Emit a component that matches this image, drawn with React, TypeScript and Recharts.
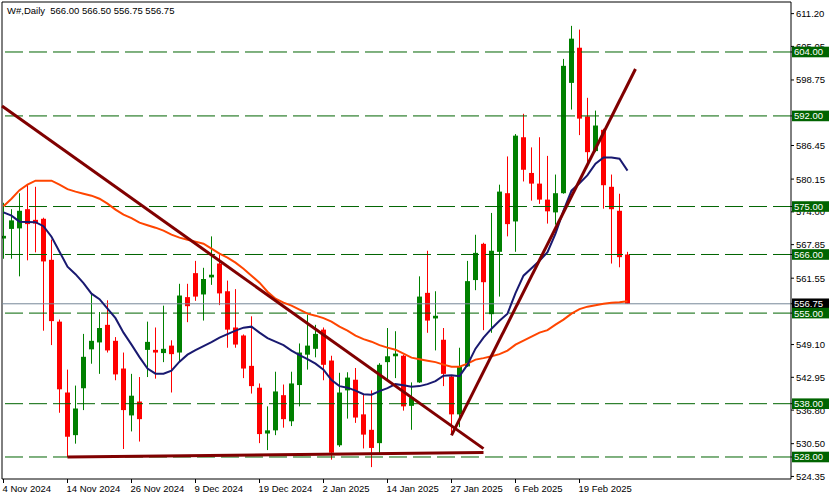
import { ComposedChart, Bar, Line, XAxis, YAxis, ReferenceLine } from "recharts";

const FONT = "'Liberation Sans', Arial, sans-serif";

// daily bars, 4 Nov 2024 .. 27 Feb 2025
const opens = [
  569.0, 570.8, 570.9, 574.5, 572.5, 572.7, 565.0, 553.4, 540.1, 532.1,
  540.9, 548.2, 549.5, 552.8, 549.8, 544.6, 535.8, 538.4, 548.1, 548.1,
  547.5, 548.9, 547.6, 558.0, 562.5, 558.5, 561.7, 564.3, 559.1, 552.3,
  550.8, 545.1, 541.0, 532.4, 533.0, 539.6, 534.7, 541.5, 547.2, 548.3,
  551.9, 546.1, 530.2, 540.5, 542.5, 536.0, 533.1, 530.6, 545.8, 546.9,
  547.0, 537.6, 542.0, 558.8, 554.0, 550.0, 543.1, 536.0, 545.0, 561.2,
  568.0, 554.8, 566.5, 577.5, 572.2, 588.0, 581.3, 579.3, 576.3, 573.9,
  577.5, 598.2, 604.8, 591.9, 585.4, 589.4, 578.7, 574.2, 566.0,
];
const highs = [
  575.7, 574.5, 577.5, 579.2, 578.7, 572.9, 568.8, 553.8, 544.4, 541.4,
  551.1, 558.7, 555.2, 557.4, 550.5, 547.6, 543.6, 543.0, 553.4, 552.3,
  556.4, 549.9, 560.5, 560.5, 564.8, 563.5, 569.4, 566.0, 561.1, 559.5,
  551.0, 554.4, 541.8, 537.5, 544.0, 541.6, 544.0, 549.3, 554.7, 552.8,
  552.3, 547.0, 543.8, 543.9, 544.7, 539.7, 540.5, 545.6, 552.2, 551.6,
  547.2, 542.0, 561.9, 566.7, 559.1, 552.2, 543.3, 548.5, 564.8, 569.7,
  568.2, 573.8, 579.1, 584.4, 588.6, 592.4, 586.1, 588.0, 584.5, 581.0,
  602.7, 608.9, 608.2, 595.4, 593.0, 589.6, 581.0, 577.4, 566.5,
];
const lows = [
  565.2, 565.2, 561.9, 564.9, 566.4, 551.7, 549.0, 536.3, 528.0, 530.5,
  536.8, 545.5, 543.6, 547.6, 542.4, 529.5, 532.8, 530.9, 543.0, 542.7,
  545.8, 540.1, 545.8, 553.3, 557.3, 553.6, 560.3, 556.5, 548.5, 548.5,
  542.8, 539.9, 530.6, 529.3, 532.1, 533.5, 533.8, 537.5, 544.4, 546.7,
  542.4, 527.5, 529.9, 535.2, 534.4, 529.6, 526.1, 528.6, 542.5, 542.8,
  536.7, 533.1, 541.9, 551.3, 548.0, 541.3, 532.5, 533.6, 544.9, 559.3,
  551.8, 551.3, 558.1, 569.4, 566.5, 579.7, 576.1, 575.5, 571.8, 571.6,
  577.4, 593.2, 588.4, 583.2, 585.2, 574.6, 564.3, 563.6, 556.75,
];
const closes = [
  569.5, 572.4, 574.2, 571.7, 571.8, 564.7, 553.5, 540.7, 531.8, 537.1,
  546.8, 549.8, 552.2, 548.0, 543.5, 536.8, 539.5, 535.1, 549.6, 547.6,
  548.3, 547.3, 558.3, 556.3, 558.1, 561.4, 562.2, 558.7, 551.9, 549.1,
  544.6, 541.3, 532.3, 533.0, 540.3, 535.1, 541.8, 547.6, 548.9, 551.1,
  545.3, 528.8, 540.1, 542.9, 535.4, 532.2, 529.7, 545.3, 546.9, 547.4,
  537.5, 539.2, 558.1, 553.6, 554.5, 543.6, 536.0, 545.0, 561.0, 566.3,
  560.8, 566.7, 577.8, 571.7, 588.3, 581.9, 579.3, 576.3, 574.1, 577.5,
  601.4, 606.5, 591.5, 585.2, 590.2, 579.0, 574.5, 565.5, 556.75,
];

// moving averages as drawn on the chart
const maFast = [
  573.90, 573.28, 572.16, 572.10, 572.06, 571.31, 569.34, 566.53, 563.72, 562.31,
  560.62, 558.65, 557.62, 555.84, 554.05, 551.33, 549.08, 546.74, 544.58, 543.64,
  543.64, 544.20, 545.89, 547.20, 548.05, 548.80, 549.55, 550.39, 551.05, 551.71,
  552.27, 552.46, 551.33, 550.30, 549.64, 548.99, 547.96, 547.11, 546.36, 545.52,
  544.39, 542.42, 541.30, 541.01, 540.45, 539.79, 539.70, 540.36, 540.92, 541.67,
  541.48, 541.20, 541.30, 541.67, 542.23, 543.26, 543.36, 543.17, 545.33, 548.33,
  550.39, 552.08, 553.58, 554.90, 558.74, 562.03, 563.43, 564.84, 566.44, 569.91,
  574.22, 577.97, 579.38, 580.88, 583.04, 584.22, 584.22, 583.98, 581.73,
];
const maSlow = [
  575.07, 576.47, 578.07, 579.10, 579.85, 579.85, 579.85, 579.10, 578.26, 577.79,
  577.41, 577.04, 576.47, 575.54, 574.41, 573.47, 572.82, 571.97, 571.50, 571.03,
  570.47, 569.72, 569.16, 568.78, 568.41, 568.03, 567.09, 566.15, 565.40, 564.47,
  563.34, 562.03, 560.71, 559.02, 557.71, 556.96, 556.40, 555.65, 554.90, 554.52,
  554.05, 553.40, 552.46, 551.71, 550.77, 550.11, 549.64, 548.99, 548.52, 548.14,
  547.39, 546.64, 546.36, 546.08, 545.80, 545.33, 544.95, 544.95, 545.52, 546.27,
  546.55, 546.92, 547.30, 547.96, 549.08, 549.83, 550.58, 551.33, 551.80, 552.83,
  553.77, 554.90, 555.74, 556.21, 556.49, 556.77, 556.96, 557.06, 557.24,
];

const dateBars = [0, 8, 16, 24, 32, 40, 48, 56, 64, 72];
const dateLabels = [
  "4 Nov 2024", "14 Nov 2024", "26 Nov 2024", "9 Dec 2024", "19 Dec 2024",
  "2 Jan 2025", "14 Jan 2025", "27 Jan 2025", "6 Feb 2025", "19 Feb 2025",
];

// scale labels that peek out around the level boxes are kept; fully hidden ones are left out
const priceTicks = [
  611.2, 605.05, 598.75, 586.45, 580.15, 574.0, 567.85, 561.55,
  549.1, 542.95, 536.8, 530.5, 524.35,
];
const levels = [604, 592, 575, 566, 555, 538, 528];
const lastPrice = 556.75;

// trendlines: [barFrom, priceFrom, barTo, priceTo]
const trendLines = [
  [-0.1875, 593.87, 60, 529.57],
  [8, 528.0, 60, 528.85],
  [56, 532.06, 79, 600.81],
];

const X_DOMAIN = [-0.1875, 98.4375];
const Y_DOMAIN = [523.87, 613.38];

const data = opens.map((o, i) => ({
  i,
  open: o,
  high: highs[i],
  low: lows[i],
  close: closes[i],
  range: [lows[i], highs[i]],
  maFast: maFast[i],
  maSlow: maSlow[i],
}));

const Candle = (props: any) => {
  const { x, y, width, height, payload } = props;
  const { open, close, high, low } = payload;
  const cx = Math.floor(x + width / 2) + 0.5;
  const toY = (v: number) => y + ((high - v) / (high - low)) * height;
  const color = close >= open ? "#008000" : "#ff0000";
  const top = toY(Math.max(open, close));
  const bot = toY(Math.min(open, close));
  return (
    <g>
      <line x1={cx} x2={cx} y1={y} y2={y + height} stroke={color} strokeWidth={1} />
      <rect x={cx - 2.5} y={top} width={5} height={Math.max(bot - top, 1.5)} fill={color} />
    </g>
  );
};

const DateTick = (props: any) => {
  const { x, y, payload } = props;
  const idx = dateBars.indexOf(payload.value);
  return (
    <text x={x - 1} y={y + 9} fontSize={9.5} fontFamily={FONT} fill="#000" textAnchor="start">
      {dateLabels[idx]}
    </text>
  );
};

const PriceTick = (props: any) => {
  const { x, y, payload } = props;
  const v = payload.value;
  const label = v.toFixed(2);
  if (levels.includes(v) || v === lastPrice) {
    const bg = v === lastPrice ? "#000" : "#006400";
    return (
      <g>
        <rect x={x - 4} y={y - 5.3} width={37} height={10.6} fill={bg} />
        <text x={x - 2} y={y + 3.5} fontSize={9.5} fontFamily={FONT} fill="#fff">
          {label}
        </text>
      </g>
    );
  }
  return (
    <text x={x} y={y + 3.5} fontSize={9.5} fontFamily={FONT} fill="#000">
      {label}
    </text>
  );
};

export default function App() {
  return (
    <div style={{ position: "absolute", left: 0, top: 0, width: 832, height: 500, background: "#fff" }}>
      <ComposedChart
        width={832}
        height={500}
        data={data}
        margin={{ top: 2, right: 0, left: 2, bottom: 0 }}
      >
        <XAxis
          dataKey="i"
          type="number"
          domain={X_DOMAIN}
          allowDataOverflow
          ticks={dateBars}
          interval={0}
          height={21}
          tickSize={4}
          tickMargin={0}
          axisLine={{ stroke: "#000" }}
          tickLine={{ stroke: "#000" }}
          tick={<DateTick />}
        />
        <YAxis
          orientation="right"
          type="number"
          domain={Y_DOMAIN}
          allowDataOverflow
          ticks={[...priceTicks, lastPrice, ...levels]}
          interval={0}
          width={41}
          tickSize={3}
          tickMargin={2}
          axisLine={{ stroke: "#000" }}
          tickLine={{ stroke: "#000" }}
          tick={<PriceTick />}
        />
        <ReferenceLine x={X_DOMAIN[0]} stroke="#000" ifOverflow="visible" />
        <ReferenceLine y={Y_DOMAIN[1]} stroke="#000" ifOverflow="visible" />
        {levels.map((v) => (
          <ReferenceLine key={v} y={v} stroke="#006400" strokeDasharray="18 6" />
        ))}
        <ReferenceLine y={lastPrice} stroke="#778899" />
        <Bar dataKey="range" barSize={5} shape={<Candle />} isAnimationActive={false} />
        <Line dataKey="maSlow" stroke="#ff4500" strokeWidth={2} dot={false} isAnimationActive={false} />
        <Line dataKey="maFast" stroke="#191970" strokeWidth={2} dot={false} isAnimationActive={false} />
        {trendLines.map(([x1, y1, x2, y2], k) => (
          <ReferenceLine
            key={k}
            segment={[{ x: x1, y: y1 }, { x: x2, y: y2 }]}
            stroke="#800000"
            strokeWidth={3}
            ifOverflow="visible"
          />
        ))}
      </ComposedChart>
      <div
        style={{
          position: "absolute",
          left: 7,
          top: 5,
          fontSize: 9.5,
          fontFamily: FONT,
          color: "#000",
          whiteSpace: "pre",
        }}
      >
        {"W#,Daily  566.00 566.50 556.75 556.75"}
      </div>
    </div>
  );
}
